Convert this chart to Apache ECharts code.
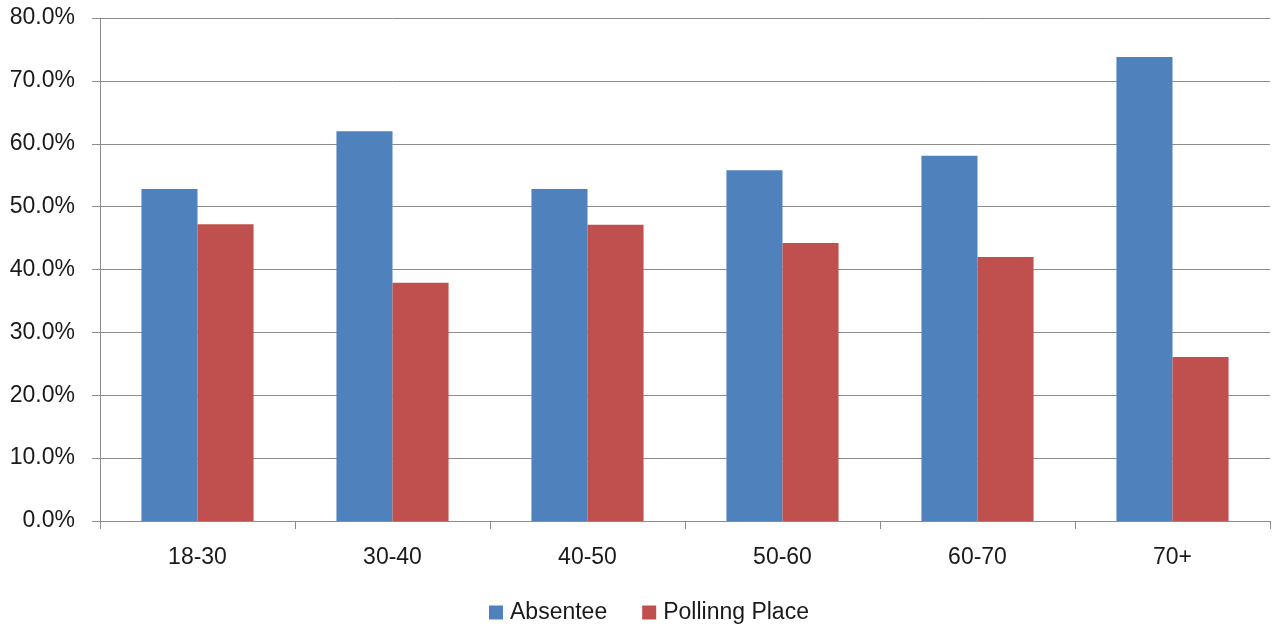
<!DOCTYPE html>
<html><head><meta charset="utf-8">
<script src="https://cdn.jsdelivr.net/npm/echarts@6/dist/echarts.min.js"></script>
<style>html,body{margin:0;padding:0;background:#fff}#c{width:1273px;height:629px}</style>
</head><body><div id="c"></div>
<script>
const categories = ['18-30','30-40','40-50','50-60','60-70','70+'];
const absentee = [52.8, 62.0, 52.8, 55.8, 58.1, 73.8];
const pollingPlace = [47.2, 37.9, 47.1, 44.2, 42.0, 26.1];
const seriesNames = ['Absentee','Pollinng Place'];
const font = '"Liberation Sans", "DejaVu Sans", sans-serif';
const chart = echarts.init(document.getElementById('c'));
chart.setOption({
  animation:false,
  grid:{left:100,right:3,top:18,bottom:108,containLabel:false},
  legend:{top:596,left:484,itemWidth:14,itemHeight:14,itemGap:35,icon:'rect',
    textStyle:{fontFamily:font,fontSize:23,color:'#1a1a1a',padding:[0,0,0,2]},data:seriesNames},
  xAxis:{type:'category',data:categories,
    axisLine:{lineStyle:{color:'#8c8c8c',width:1}},
    axisTick:{show:true,length:8,alignWithLabel:false,lineStyle:{color:'#8c8c8c'}},
    axisLabel:{fontFamily:font,fontSize:23,color:'#1a1a1a',margin:25}},
  yAxis:{type:'value',min:0,max:80,interval:10,
    axisLine:{show:true,lineStyle:{color:'#8c8c8c'}},
    axisTick:{show:true,length:8,inside:false,lineStyle:{color:'#8c8c8c'}},
    splitLine:{lineStyle:{color:'#8c8c8c',width:1}},
    axisLabel:{fontFamily:font,fontSize:23,color:'#1a1a1a',margin:25,formatter:v=>v.toFixed(1)+'%'}},
  series:[
    {name:seriesNames[0],type:'bar',data:absentee,barGap:'0%',barCategoryGap:'42.5%',itemStyle:{color:'#4F81BD'}},
    {name:seriesNames[1],type:'bar',data:pollingPlace,barGap:'0%',barCategoryGap:'42.5%',itemStyle:{color:'#C0504D'}}
  ]
});
</script></body></html>
